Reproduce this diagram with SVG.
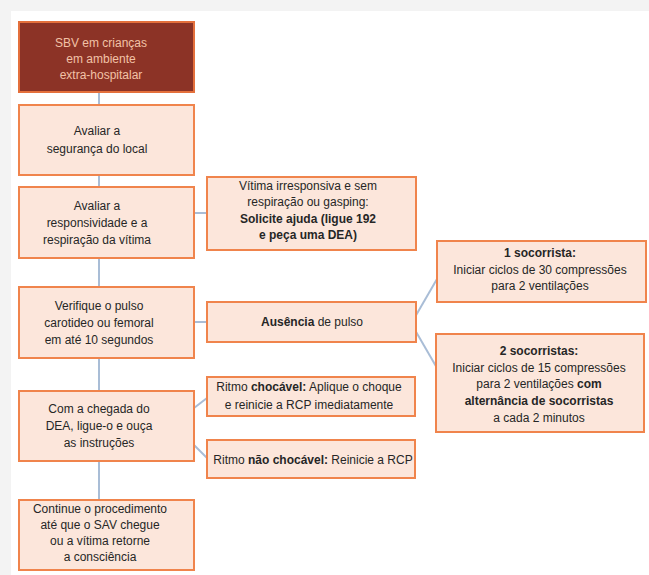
<svg xmlns="http://www.w3.org/2000/svg" width="649" height="575" viewBox="0 0 649 575">
<style>
.box{fill:#fce6db;stroke:#f0844c;stroke-width:2}
.top{fill:#8c3326;stroke:#e4703c;stroke-width:2}
.t{font-family:"Liberation Sans",Arial,sans-serif;font-size:12px;fill:#262626;text-anchor:middle}
.tt{font-family:"Liberation Sans",Arial,sans-serif;font-size:12px;fill:#f2c2a6;text-anchor:middle}
.b{font-weight:bold}
.c{stroke:#a9bdd6;stroke-width:2;fill:none}
</style>
<rect x="0" y="0" width="649" height="575" fill="#f3f3f3"/>
<rect x="11" y="11" width="638" height="564" fill="#ffffff"/>
<g id="connectors">
<line class="c" x1="99" y1="92" x2="99" y2="105"/>
<line class="c" x1="99" y1="175" x2="99" y2="187"/>
<line class="c" x1="99" y1="258" x2="99" y2="287"/>
<line class="c" x1="99" y1="358" x2="99" y2="391"/>
<line class="c" x1="99" y1="461" x2="99" y2="500"/>
<line class="c" x1="194" y1="213" x2="207" y2="213"/>
<line class="c" x1="194" y1="322" x2="207" y2="322"/>
<line class="c" x1="415" y1="317" x2="437" y2="279"/>
<line class="c" x1="415" y1="330" x2="437" y2="368"/>
<line class="c" x1="194" y1="408" x2="207" y2="398"/>
<line class="c" x1="194" y1="445" x2="207" y2="458"/>
</g>
<g id="n1">
<rect class="top" x="19" y="22" width="175" height="70"/>
<text class="tt" x="101" y="47">SBV em crianças</text>
<text class="tt" x="101" y="63">em ambiente</text>
<text class="tt" x="101" y="79">extra-hospitalar</text>
</g>
<g id="n2">
<rect class="box" x="19" y="105" width="175" height="70"/>
<text class="t" x="97" y="135">Avaliar a</text>
<text class="t" x="97" y="153">segurança do local</text>
</g>
<g id="n3">
<rect class="box" x="19" y="187" width="175" height="71"/>
<text class="t" x="97" y="210">Avaliar a</text>
<text class="t" x="97" y="227">responsividade e a</text>
<text class="t" x="97" y="244">respiração da vítima</text>
</g>
<g id="n4">
<rect class="box" x="19" y="287" width="175" height="71"/>
<text class="t" x="99" y="310">Verifique o pulso</text>
<text class="t" x="99" y="327">carotideo ou femoral</text>
<text class="t" x="99" y="344">em até 10 segundos</text>
</g>
<g id="n5">
<rect class="box" x="19" y="391" width="175" height="70"/>
<text class="t" x="99" y="413">Com a chegada do</text>
<text class="t" x="99" y="430">DEA, ligue-o e ouça</text>
<text class="t" x="99" y="447">as instruções</text>
</g>
<g id="n6">
<rect class="box" x="19" y="500" width="175" height="70"/>
<text class="t" x="100" y="513">Continue o procedimento</text>
<text class="t" x="100" y="529">até que o SAV chegue</text>
<text class="t" x="100" y="545">ou a vítima retorne</text>
<text class="t" x="100" y="561">a consciência</text>
</g>
<g id="n7">
<rect class="box" x="207" y="177" width="209" height="73"/>
<text class="t" x="308" y="190">Vítima irresponsiva e sem</text>
<text class="t" x="308" y="206">respiração ou gasping:</text>
<text class="t b" x="308" y="223">Solicite ajuda (ligue 192</text>
<text class="t b" x="308" y="239">e peça uma DEA)</text>
</g>
<g id="n8">
<rect class="box" x="207" y="302" width="209" height="40"/>
<text class="t" x="312" y="326"><tspan class="b">Ausência</tspan> de pulso</text>
</g>
<g id="n9">
<rect class="box" x="437" y="241" width="209" height="61"/>
<text class="t b" x="540" y="257">1 socorrista:</text>
<text class="t" x="540" y="274">Iniciar ciclos de 30 compressões</text>
<text class="t" x="540" y="290">para 2 ventilações</text>
</g>
<g id="n10">
<rect class="box" x="436" y="334" width="208" height="98"/>
<text class="t b" x="539" y="355">2 socorristas:</text>
<text class="t" x="539" y="372">Iniciar ciclos de 15 compressões</text>
<text class="t" x="539" y="388">para 2 ventilações <tspan class="b">com</tspan></text>
<text class="t b" x="539" y="405">alternância de socorristas</text>
<text class="t" x="539" y="422">a cada 2 minutos</text>
</g>
<g id="n11">
<rect class="box" x="207" y="377" width="208" height="39"/>
<text class="t" x="309" y="391">Ritmo <tspan class="b">chocável:</tspan> Aplique o choque</text>
<text class="t" x="309" y="409">e reinicie a RCP imediatamente</text>
</g>
<g id="n12">
<rect class="box" x="207" y="440" width="208" height="38"/>
<text class="t" x="313" y="464">Ritmo <tspan class="b">não chocável:</tspan> Reinicie a RCP</text>
</g>
</svg>
